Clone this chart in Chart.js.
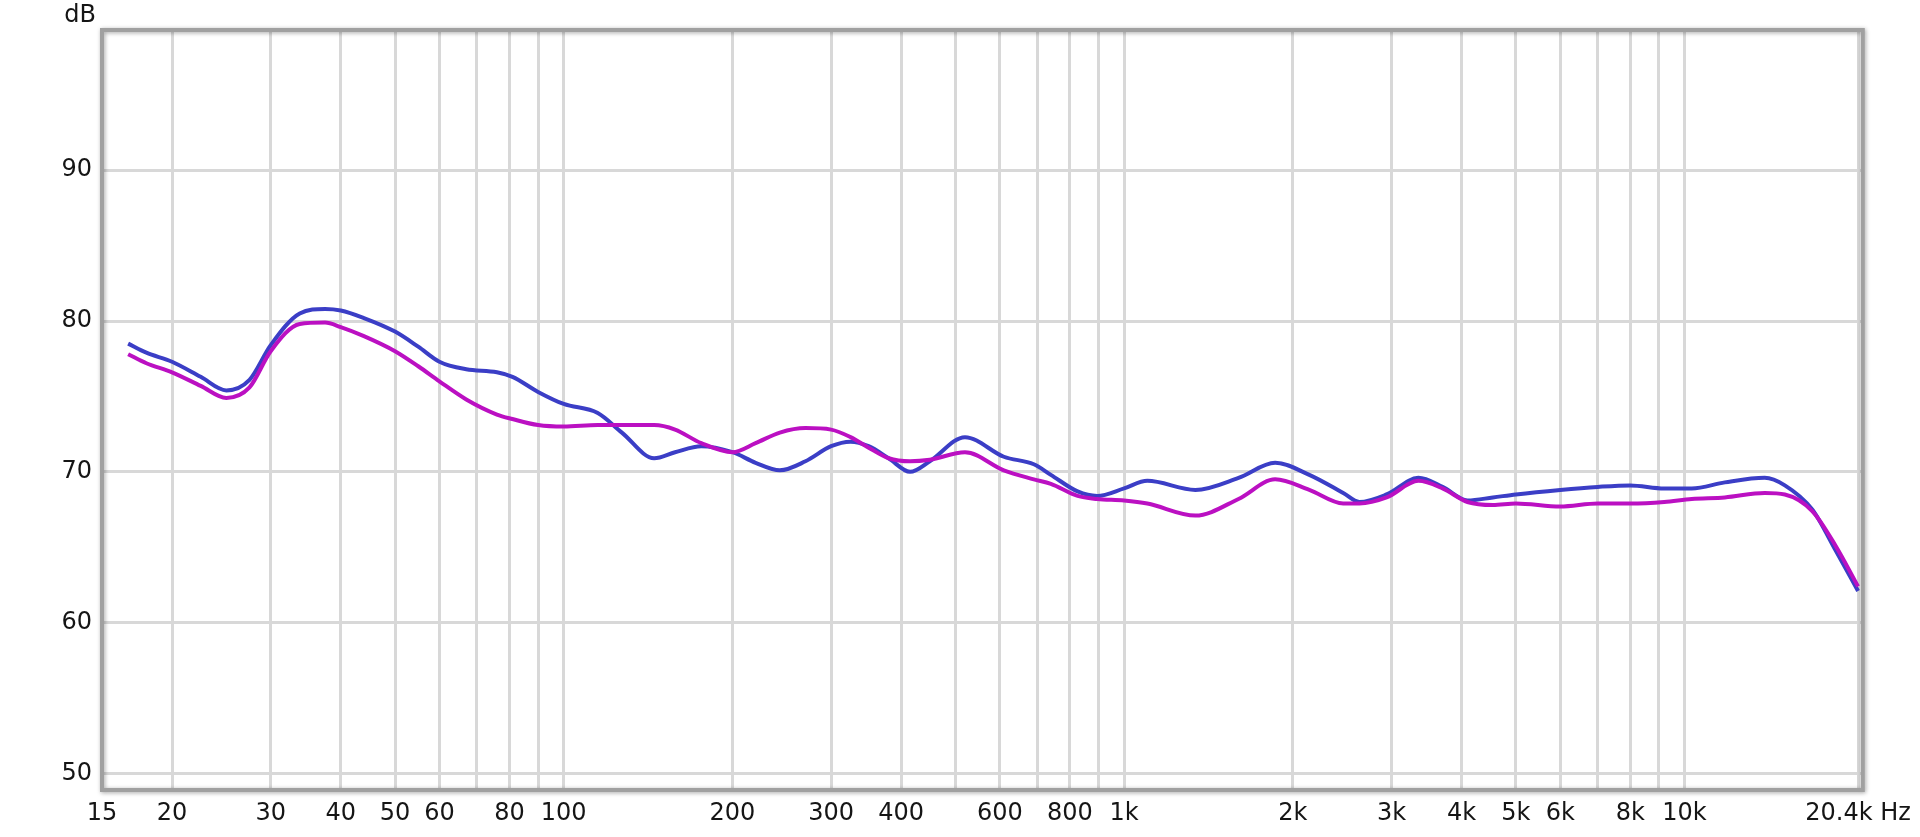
<!DOCTYPE html>
<html>
<head>
<meta charset="utf-8">
<script src="https://cdn.jsdelivr.net/npm/chart.js@4.4.1/dist/chart.umd.min.js"></script>
<style>
  html, body { margin: 0; padding: 0; background: #fff; }
  #wrap { width: 1920px; height: 837px; position: relative; }
</style>
</head>
<body>
<div id="wrap"><canvas id="fr"></canvas></div>
<script>
// frequencies (Hz) shared by both traces
const freqs = [16.7, 18, 20, 22.5, 25, 27.5, 30, 33.8, 37.5, 40, 44, 50, 55, 60, 67, 76, 81, 90,
  100, 115, 127, 145, 158, 176, 200, 220, 243, 270, 300, 325, 350, 380, 415, 450, 520, 610, 690, 740,
  826, 895, 1000, 1100, 1340, 1600, 1860, 2140, 2460, 2630, 2940, 3350, 3700, 4100, 4550, 5000,
  6000, 7000, 8000, 9200, 10300, 11800, 13900, 15100, 16900, 18600, 20400];

// blue trace (dB)
const blueDb = [78.5, 77.9, 77.3, 76.3, 75.4, 76.1, 78.4, 80.5, 80.8, 80.7, 80.2, 79.3, 78.3, 77.3, 76.8, 76.6, 76.3, 75.3,
  74.5, 73.9, 72.6, 70.9, 71.3, 71.7, 71.3, 70.6, 70.1, 70.7, 71.7, 72.0, 71.7, 70.9, 70.0, 70.7, 72.3, 71.0, 70.5, 69.8,
  68.7, 68.4, 68.9, 69.4, 68.8, 69.6, 70.6, 69.8, 68.6, 68.0, 68.5, 69.6, 69.0, 68.1, 68.3, 68.5,
  68.8, 69.0, 69.1, 68.9, 68.9, 69.3, 69.6, 69.1, 67.5, 64.8, 62.1];

// magenta trace (dB)
const magentaDb = [77.8, 77.2, 76.6, 75.7, 74.9, 75.6, 78.0, 79.8, 79.9, 79.6, 79.0, 78.0, 77.0, 76.0, 74.8, 73.8, 73.5, 73.1,
  73.0, 73.1, 73.1, 73.1, 72.8, 71.9, 71.3, 71.9, 72.6, 72.9, 72.8, 72.3, 71.6, 70.9, 70.7, 70.8, 71.3, 70.1, 69.5, 69.2,
  68.4, 68.2, 68.1, 67.9, 67.1, 68.2, 69.5, 68.8, 67.9, 67.9, 68.3, 69.4, 68.9, 68.0, 67.8, 67.9,
  67.7, 67.9, 67.9, 68.0, 68.2, 68.3, 68.6, 68.5, 67.4, 65.1, 62.4];

// x grid / tick positions and their labels ('' = grid only)
const xTicks = [15, 20, 30, 40, 50, 60, 70, 80, 90, 100, 200, 300, 400, 500, 600, 700, 800, 900,
  1000, 2000, 3000, 4000, 5000, 6000, 7000, 8000, 9000, 10000, 20400];
const xLabels = ['15', '20', '30', '40', '50', '60', '', '80', '', '100', '200', '300', '400', '', '600', '', '800', '',
  '1k', '2k', '3k', '4k', '5k', '6k', '', '8k', '', '10k', '20.4k Hz'];
const yTicks = [50, 60, 70, 80, 90];

const gridColor = '#d8d8d8';
const labelFont = { family: 'DejaVu Sans', size: 24 };

const frame = {
  id: 'frame',
  afterDraw(chart) {
    const { ctx, chartArea: a } = chart;
    ctx.save();
    ctx.shadowColor = 'rgba(0,0,0,0.35)';
    ctx.shadowBlur = 4;
    ctx.shadowOffsetX = 1;
    ctx.shadowOffsetY = 1;
    ctx.strokeStyle = '#a0a0a0';
    ctx.lineWidth = 4;
    ctx.strokeRect(a.left, a.top, a.right - a.left, a.bottom - a.top);
    ctx.restore();
    // unit label top-left, right edge lined up with the y tick labels
    ctx.save();
    ctx.font = '24px "DejaVu Sans"';
    ctx.fillStyle = '#151515';
    ctx.textAlign = 'right';
    ctx.textBaseline = 'alphabetic';
    ctx.fillText('dB', 96, 22);
    ctx.restore();
  }
};

const toPoints = vals => freqs.map((f, i) => ({ x: f, y: vals[i] }));

new Chart(document.getElementById('fr'), {
  type: 'line',
  data: {
    datasets: [
      {
        label: 'blue',
        data: toPoints(blueDb),
        borderColor: '#3b3ec6',
        borderWidth: 4,
        pointRadius: 0,
        cubicInterpolationMode: 'monotone',
        order: 2
      },
      {
        label: 'magenta',
        data: toPoints(magentaDb),
        borderColor: '#bb10c2',
        borderWidth: 4,
        pointRadius: 0,
        cubicInterpolationMode: 'monotone',
        order: 1
      }
    ]
  },
  options: {
    responsive: true,
    maintainAspectRatio: false,
    animation: false,
    layout: { padding: { top: 30, right: 52, left: 0, bottom: 0 } },
    plugins: { legend: { display: false }, tooltip: { enabled: false } },
    scales: {
      x: {
        type: 'logarithmic',
        min: 15,
        max: 20800,
        afterBuildTicks(scale) { scale.ticks = xTicks.map(v => ({ value: v })); },
        afterFit(scale) { scale.height = 47; },
        border: { display: false },
        grid: {
          drawTicks: false,
          lineWidth: 3,
          color: ctx => (ctx.tick && ctx.tick.value === 15) ? 'rgba(0,0,0,0)' : gridColor
        },
        ticks: {
          autoSkip: false,
          maxRotation: 0,
          padding: 9,
          color: '#151515',
          font: labelFont,
          callback: (value) => {
            const i = xTicks.indexOf(value);
            return i >= 0 ? xLabels[i] : '';
          }
        }
      },
      y: {
        min: 48.9,
        max: 99.3,
        afterBuildTicks(scale) { scale.ticks = yTicks.map(v => ({ value: v })); },
        afterFit(scale) { scale.width = 102; },
        border: { display: false },
        grid: { drawTicks: false, lineWidth: 3, color: gridColor },
        ticks: { padding: 10, color: '#151515', font: labelFont }
      }
    }
  },
  plugins: [frame]
});
</script>
</body>
</html>
